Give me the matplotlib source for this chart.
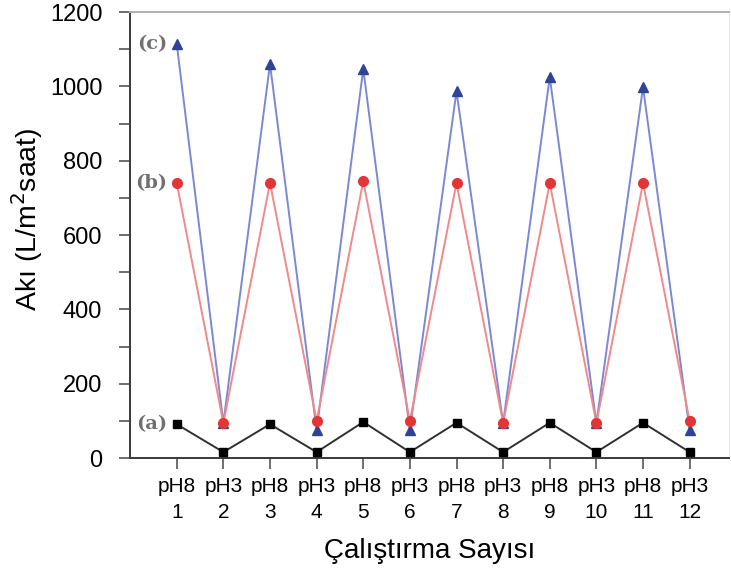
import numpy as np
import matplotlib.pyplot as plt
from matplotlib.ticker import MultipleLocator

plt.rcParams['font.family'] = ['Liberation Sans', 'DejaVu Sans']

## data ################################

runs = np.arange(1, 13)
ph_labels = ['pH8', 'pH3'] * 6
flux_a = [91, 16, 91, 16, 97, 16, 95, 16, 95, 16, 95, 16]
flux_b = [740, 94, 740, 100, 745, 100, 740, 94, 740, 94, 740, 100]
flux_c = [1114, 94, 1060, 75, 1047, 75, 987, 94, 1025, 94, 998, 75]

## plot ################################

fig = plt.figure(figsize=(7.31, 5.74), dpi=100)
ax = fig.add_axes([0.178, 0.202, 0.819, 0.777])

ax.plot(runs, flux_c, color='#7b89d4', lw=1.4, marker='^', ms=7.5,
        mfc='#2f4399', mec='#2f4399', zorder=3)
ax.plot(runs, flux_b, color='#f08a8a', lw=1.4, marker='o', ms=7,
        mfc='#e23636', mec='#e23636', zorder=4)
ax.plot(runs, flux_a, color='#303030', lw=1.4, marker='s', ms=6,
        mfc='black', mec='black', zorder=5)

# series labels next to the first point
for lab, vals in [('(a)', flux_a), ('(b)', flux_b), ('(c)', flux_c)]:
    ax.text(0.8, vals[0], lab, family='DejaVu Serif', fontweight='bold',
            color='#707070', fontsize=14, ha='right', va='center')

ax.set_xlim(0, 12.84)
ax.set_ylim(0, 1200)
ax.set_xticks(runs)
ax.set_xticklabels([f'{p}\n{r}' for p, r in zip(ph_labels, runs)],
                   linespacing=1.45)
ax.yaxis.set_major_locator(MultipleLocator(200))
ax.yaxis.set_minor_locator(MultipleLocator(100))

ax.tick_params(axis='both', direction='out', length=8, width=1.2,
               color='#555555')
ax.tick_params(axis='y', which='minor', direction='out', length=8,
               width=1.2, color='#555555')
ax.tick_params(axis='y', pad=12, labelsize=17)
ax.tick_params(axis='x', pad=6, labelsize=15)

for s in ['left', 'bottom']:
    ax.spines[s].set_color('#3a3a3a')
    ax.spines[s].set_linewidth(1.4)
ax.spines['top'].set_color('#b0b0b0')
ax.spines['top'].set_linewidth(1.4)
ax.spines['right'].set_color('#e8e8e8')

ax.set_ylabel('Akı (L/m$^2$saat)', fontsize=20.5)
ax.yaxis.set_label_coords(-0.142, 0.536)
ax.set_xlabel('Çalıştırma Sayısı', fontsize=20, labelpad=11)

fig.savefig('out.png', dpi=100)
